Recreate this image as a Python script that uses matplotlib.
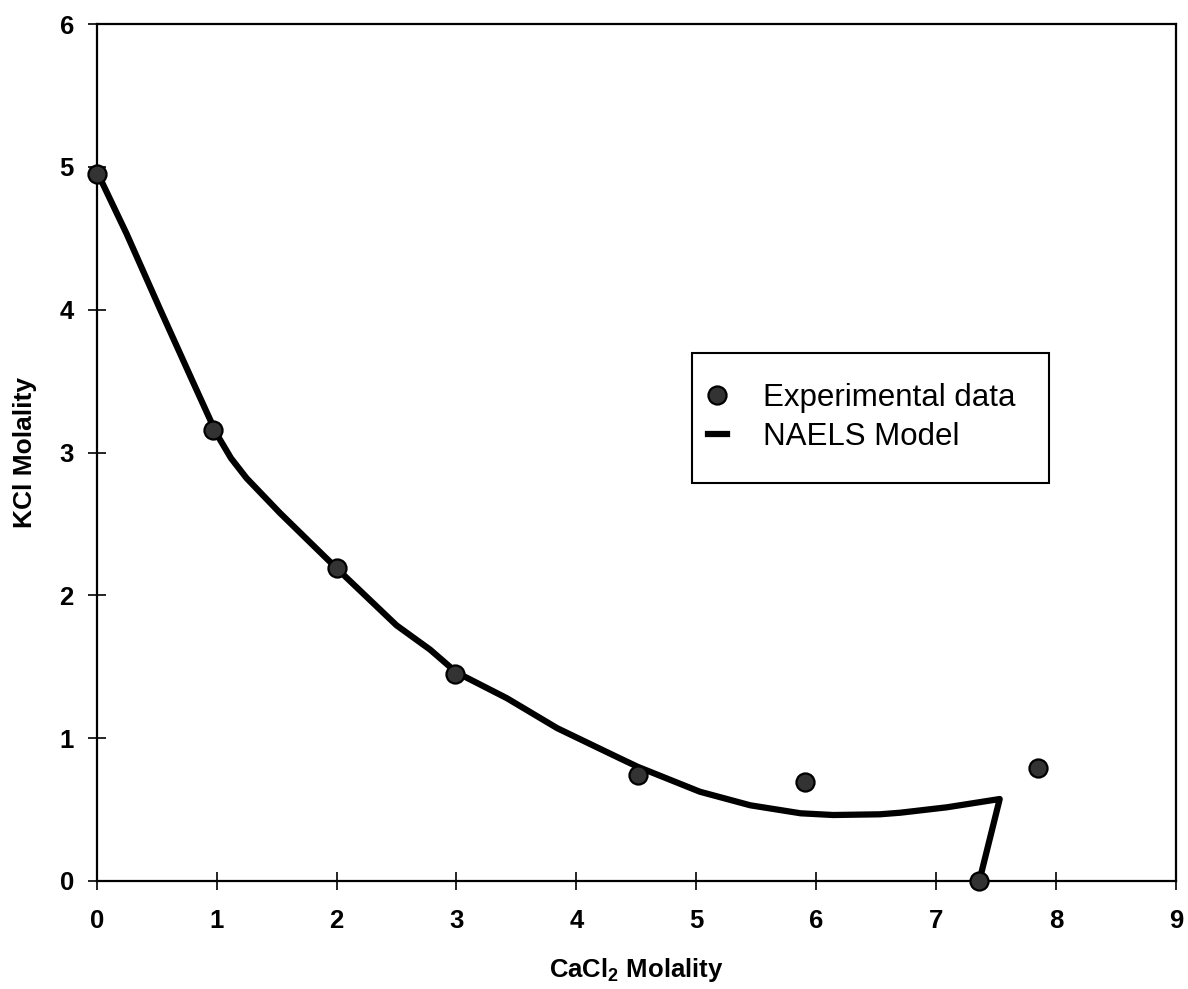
import matplotlib
matplotlib.use("Agg")
import matplotlib.pyplot as plt
from matplotlib.lines import Line2D
from matplotlib.patches import Rectangle

plt.rcParams['font.family'] = ['Liberation Sans', 'DejaVu Sans']
plt.rcParams['mathtext.fontset'] = 'custom'
plt.rcParams['mathtext.rm'] = 'Liberation Sans'
plt.rcParams['mathtext.bf'] = 'Liberation Sans:bold'

# Experimental solubility points (CaCl2 vs KCl molality)
exp_cacl2 = [0.0, 0.97, 2.0, 2.99, 4.51, 5.91, 7.36, 7.85]
exp_kcl = [4.95, 3.16, 2.19, 1.45, 0.74, 0.695, 0.0, 0.79]

# NAELS model curve
model_cacl2 = [0.0, 0.25, 0.53, 0.81, 1.0, 1.12, 1.25, 1.53, 2.0, 2.5, 2.78,
               3.0, 3.42, 3.84, 4.31, 4.51, 5.03, 5.45, 5.87, 6.14, 6.53,
               6.70, 7.09, 7.53, 7.36]
model_kcl = [4.97, 4.53, 4.00, 3.48, 3.13, 2.96, 2.82, 2.575, 2.19, 1.79, 1.62,
             1.46, 1.28, 1.07, 0.88, 0.80, 0.625, 0.53, 0.474, 0.462, 0.467,
             0.478, 0.516, 0.574, 0.0]

x_ticks = [0, 1, 2, 3, 4, 5, 6, 7, 8, 9]
y_ticks = [0, 1, 2, 3, 4, 5, 6]

W, H = 1188, 989
fig = plt.figure(figsize=(W / 100, H / 100), dpi=100)
ax = fig.add_axes([96.7 / W, 1 - 881 / H, (1176 - 96.7) / W, (881 - 24) / H])

ax.plot(model_cacl2, model_kcl, color='black', lw=4.5, solid_joinstyle='round',
        solid_capstyle='round', zorder=3, clip_on=False)
ax.plot(exp_cacl2, exp_kcl, ls='none', marker='o', ms=13, mfc='#333333',
        mec='black', mew=1.6, zorder=4, clip_on=False)

ax.set_xlim(0, 9)
ax.set_ylim(0, 6)
ax.set_xticks(x_ticks)
ax.set_yticks(y_ticks)
ax.tick_params(direction='inout', length=13, width=1.2, color='black',
               labelsize=18.5)
ax.tick_params(axis='x', pad=14)
ax.tick_params(axis='y', pad=10)
for lab in ax.get_xticklabels() + ax.get_yticklabels():
    lab.set_fontweight('bold')
for sp in ax.spines.values():
    sp.set_linewidth(1.6)
    sp.set_color('black')

ax.set_xlabel(r'CaCl$_{\mathbf{2}}$ Molality', fontsize=18.5, fontweight='bold',
              labelpad=16)
ax.set_ylabel('KCl Molality', fontsize=19, fontweight='bold', labelpad=16)

# Legend frame and entries
fig.patches.append(Rectangle((691.7 / W, 1 - 483 / H), (1049 - 691.7) / W,
                             (483 - 353) / H, transform=fig.transFigure,
                             fill=False, edgecolor='black', lw=1.5, zorder=5))
handles = [
    Line2D([], [], ls='none', marker='o', ms=13, mfc='#333333', mec='black',
           mew=1.6),
    Line2D([], [], color='black', lw=4.5),
]
fig.legend(handles, ['Experimental data', 'NAELS Model'], loc='upper left',
           bbox_to_anchor=(708 / W, 1 - 383 / H), bbox_transform=fig.transFigure,
           frameon=False, fontsize=22.5, handlelength=0.6, handletextpad=1.15,
           labelspacing=0.3, borderpad=0, borderaxespad=0)

fig.savefig('out.png', dpi=100, facecolor='white')
